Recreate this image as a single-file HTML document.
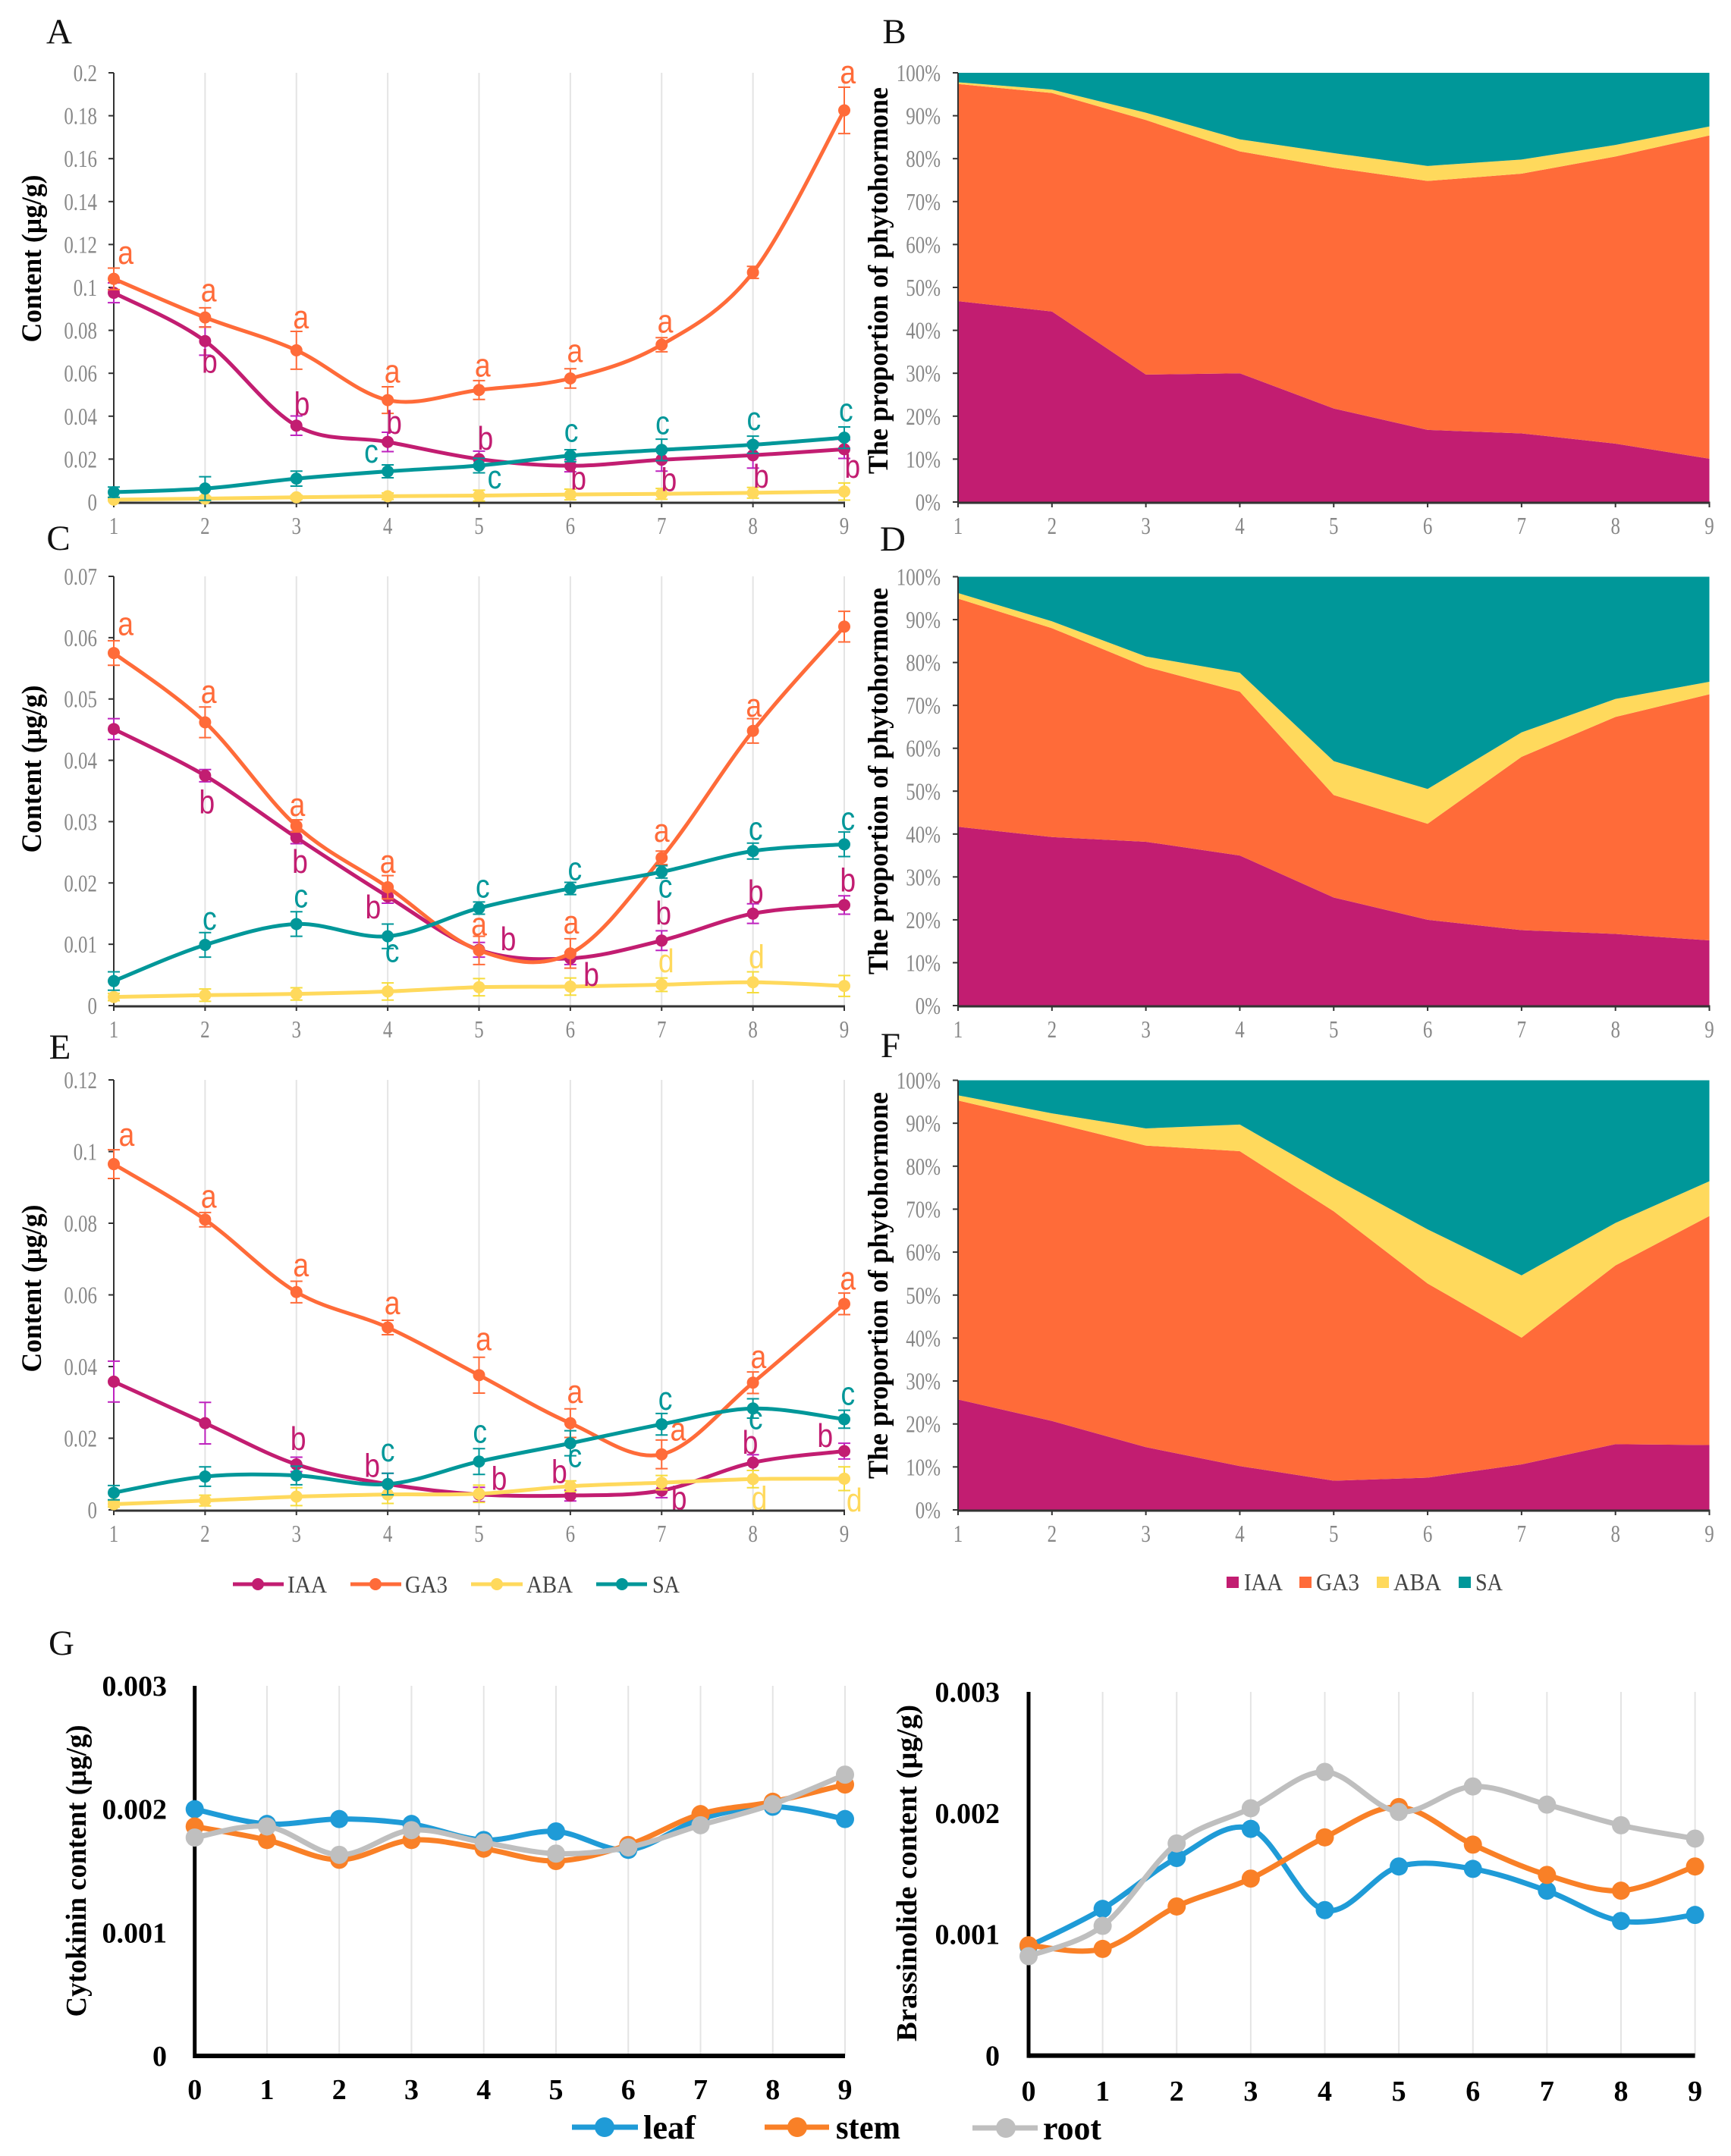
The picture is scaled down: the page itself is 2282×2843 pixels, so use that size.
<!DOCTYPE html>
<html lang="en">
<head>
<meta charset="utf-8">
<title>Phytohormone content and proportion charts</title>
<style>
html,body{margin:0;padding:0;background:#fff;}
svg{display:block;}
</style>
</head>
<body>
<svg id="fig" xmlns="http://www.w3.org/2000/svg" width="2282" height="2843" viewBox="0 0 2282 2843"></svg>
<script>
// ---------- shared categories ----------
const stages = [1,2,3,4,5,6,7,8,9];
const stagesG = [0,1,2,3,4,5,6,7,8,9];

// ---------- panel A values ----------
const ticksA = ['0','0.02','0.04','0.06','0.08','0.1','0.12','0.14','0.16','0.18','0.2'];
const aIAA = [.0975,.075,.0356,.028,.020,.0169,.0197,.0218,.0246];
const aGA3 = [.104,.086,.0707,.0475,.0522,.0576,.0733,.107,.1825];
const aABA = [.0011,.0016,.0022,.0027,.003,.0035,.0038,.0043,.0049];
const aSA  = [.0046,.0063,.0109,.0143,.017,.0216,.0243,.0267,.03];
const aIAAerr = [.0046,.0066,.0045,.0045,.0037,.0028,.0053,.006,.0043];
const aGA3err = [.005,.0045,.0088,.0062,.0044,.0045,.0033,.0028,.0108];
const aABAerr = [.0005,.001,.001,.0015,.0025,.0025,.0025,.0025,.004];
const aSAerr  = [.0024,.0055,.0035,.003,.0034,.0028,.005,.004,.005];
const aLettersGA3 = [['a',1.13,.1148],['a',2.04,.0973],['a',3.05,.0848],['a',4.05,.0596],['a',5.04,.0624],['a',6.05,.0691],['a',7.04,.0828],['a',9.04,.1989]];
const aLettersIAA = [['b',2.05,.0659],['b',3.06,.0462],['b',4.07,.0375],['b',5.07,.03],['b',6.09,.0115],['b',7.08,.0107],['b',8.09,.0123],['b',9.09,.017]];
const aLettersSA  = [['c',3.82,.0222],['c',5.17,.0103],['c',6.01,.032],['c',7.01,.0355],['c',8.01,.0375],['c',9.02,.0415]];
const aLettersABA = [];

// ---------- panel C values ----------
const ticksC = ['0','0.01','0.02','0.03','0.04','0.05','0.06','0.07'];
const cIAA = [.0451,.0375,.0274,.0178,.0091,.0077,.0106,.015,.0164];
const cGA3 = [.0575,.0462,.0293,.0193,.009,.0085,.0241,.0448,.0618];
const cABA = [.0014,.0017,.0019,.0023,.003,.0031,.0034,.0038,.0032];
const cSA  = [.004,.0099,.0133,.0113,.0159,.0191,.0218,.0252,.0263];
const cIAAerr = [.0017,.001,.001,.0011,.0012,.001,.0016,.0016,.0015];
const cGA3err = [.002,.0025,.001,.0019,.0023,.0024,.0011,.002,.0025];
const cABAerr = [.0006,.001,.001,.0014,.0014,.0014,.0011,.0017,.0017];
const cSAerr  = [.0015,.002,.002,.002,.001,.001,.001,.0013,.002];
const cLettersGA3 = [['a',1.13,.0618],['a',2.04,.0507],['a',3.01,.0323],['a',4.0,.023],['a',5.0,.0128],['a',6.01,.0131],['a',7.0,.0281],['a',8.01,.0485]];
const cLettersIAA = [['b',2.02,.0333],['b',3.04,.0236],['b',3.84,.0162],['b',5.32,.011],['b',6.23,.0052],['b',7.02,.0152],['b',8.03,.0187],['b',9.04,.0206]];
const cLettersSA  = [['c',2.05,.0137],['c',3.05,.0174],['c',4.05,.0085],['c',5.04,.019],['c',6.05,.0218],['c',7.04,.019],['c',8.03,.0284],['c',9.04,.03]];
const cLettersABA = [['d',7.05,.0074],['d',8.04,.0081]];

// ---------- panel E values ----------
const ticksE = ['0','0.02','0.04','0.06','0.08','0.1','0.12'];
const eIAA = [.0358,.0242,.0127,.0072,.0043,.004,.0054,.0132,.0164];
const eGA3 = [.0965,.081,.0608,.0509,.0376,.0242,.0155,.0355,.0575];
const eABA = [.0016,.0026,.0037,.0043,.0045,.0066,.0076,.0086,.0087];
const eSA  = [.0048,.0093,.0096,.0072,.0135,.0186,.0239,.0283,.0253];
const eIAAerr = [.0057,.0058,.002,.003,.002,.0015,.002,.0022,.0022];
const eGA3err = [.004,.002,.003,.002,.005,.004,.004,.003,.003];
const eABAerr = [.0008,.0015,.0025,.0025,.0024,.0015,.002,.0024,.0033];
const eSAerr  = [.002,.0027,.0026,.003,.0036,.0035,.003,.0027,.0025];
const eLettersGA3 = [['a',1.14,.1039],['a',2.04,.0867],['a',3.05,.0675],['a',4.05,.0569],['a',5.05,.0469],['a',6.05,.0322],['a',7.18,.0217],['a',8.06,.0419],['a',9.04,.0638]];
const eLettersIAA = [['b',3.02,.0201],['b',3.83,.0126],['b',5.22,.009],['b',5.88,.0109],['b',7.19,.0035],['b',7.97,.019],['b',8.79,.0209]];
const eLettersSA  = [['c',4.0,.0159],['c',5.01,.0211],['c',6.05,.0143],['c',7.04,.0303],['c',8.03,.0249],['c',9.04,.0316]];
const eLettersABA = [['d',8.07,.0035],['d',9.11,.003]];

// ---------- proportion panels (percent share of each hormone) ----------
const pctTicks = ['0%','10%','20%','30%','40%','50%','60%','70%','80%','90%','100%'];
const bIAA = [46.8,44.4,29.7,30,21.8,16.8,16,13.6,10.1];
const bGA3 = [50.6,50.9,59.3,51.7,56.1,58,60.5,66.9,75.3];
const bABA = [0.4,0.8,1.7,2.8,3.4,3.5,3.3,2.7,2.1];
const bSA  = [2.2,3.9,9.3,15.5,18.7,21.7,20.2,16.8,12.5];
const dIAA = [41.7,39.3,38.2,35,25.2,20,17.6,16.7,15.2];
const dGA3 = [53.2,48.7,40.8,38.2,23.9,22.4,40.4,50.6,57.4];
const dABA = [1.3,1.6,2.4,4.4,7.9,8.1,5.7,4.2,2.9];
const dSA  = [3.8,10.4,18.6,22.4,43,49.5,36.3,28.5,24.5];
const fIAA = [25.7,20.7,14.6,10.2,6.8,7.5,10.6,15.3,15.1];
const fGA3 = [69.6,69.5,70.2,73.3,62.7,45.2,29.5,41.6,53.3];
const fABA = [1.2,2.1,4,6.2,7.7,12.6,14.5,9.9,8.1];
const fSA  = [3.5,7.7,11.2,10.3,22.8,34.7,45.4,33.2,23.5];

// ---------- panel G values ----------
const gTicks = ['0','0.001','0.002','0.003'];
const ckLeaf = [.002,.00188,.00192,.00188,.00175,.00182,.00167,.00192,.00202,.00192];
const ckStem = [.00186,.00175,.00159,.00175,.00168,.00158,.00171,.00196,.00206,.0022];
const ckRoot = [.00177,.00186,.00163,.00183,.00173,.00164,.00169,.00187,.00204,.00228];
const brLeaf = [.0009,.00121,.00163,.00187,.0012,.00156,.00154,.00136,.00111,.00116];
const brStem = [.00091,.00088,.00123,.00146,.0018,.00205,.00174,.00149,.00136,.00156];
const brRoot = [.00082,.00107,.00175,.00204,.00234,.00201,.00222,.00207,.0019,.00179];

// ---------- styling ----------
const COL = {IAA:'#C21D71', GA3:'#FF6B39', ABA:'#FFD95C', SA:'#009799', leaf:'#1F9BD7', stem:'#F98027', root:'#BFBFBF'};
const ERR = {IAA:'#BE22BE', GA3:'#FF6B39', ABA:'#F5DC3C', SA:'#009799'};
const SERIF = '"Liberation Serif", serif';
const SANS = '"Liberation Sans", sans-serif';
const TICKGRAY = '#888888';
const NS = 'http://www.w3.org/2000/svg';
const fig = document.getElementById('fig');

function mk(tag, attrs, parent) {
  const n = document.createElementNS(NS, tag);
  for (const k in attrs) n.setAttribute(k, attrs[k]);
  (parent || fig).appendChild(n);
  return n;
}
function linearScale(d0, d1, r0, r1) {
  return function (v) { return r0 + (v - d0) / (d1 - d0) * (r1 - r0); };
}
function smoothPath(pts) {
  let s = 'M' + pts[0][0] + ' ' + pts[0][1];
  for (let i = 0; i < pts.length - 1; i++) {
    const p0 = pts[Math.max(i - 1, 0)], p1 = pts[i], p2 = pts[i + 1], p3 = pts[Math.min(i + 2, pts.length - 1)];
    const c1x = p1[0] + (p2[0] - p0[0]) / 6, c1y = p1[1] + (p2[1] - p0[1]) / 6;
    const c2x = p2[0] - (p3[0] - p1[0]) / 6, c2y = p2[1] - (p3[1] - p1[1]) / 6;
    s += ' C' + c1x + ' ' + c1y + ' ' + c2x + ' ' + c2y + ' ' + p2[0] + ' ' + p2[1];
  }
  return s;
}
function panelLetter(str, x, y) {
  const t = mk('text', {x: x, y: y, 'font-family': SERIF, 'font-size': 47, fill: '#111', 'text-anchor': 'middle'});
  t.textContent = str;
  
  
}
function grayLabel(parent, str, x, y, anchor, name) {
  const t = mk('text', {transform: 'translate(' + x + ' ' + y + ') scale(0.78 1)', 'font-family': SERIF, 'font-size': 32, fill: TICKGRAY, 'text-anchor': anchor}, parent);
  t.textContent = str;
  
  
}
function axisTitle(parent, str, cx, cy, len, size, name) {
  const t = mk('text', {transform: 'translate(' + cx + ' ' + cy + ') rotate(-90)', 'font-family': SERIF, 'font-weight': 'bold', 'font-size': size, fill: '#000', 'text-anchor': 'middle', textLength: len, lengthAdjust: 'spacingAndGlyphs'}, parent);
  t.textContent = str;
  
  
}
function grayAxes(g, xS, yS, cats, ticks, labelRight) {
  const xa = xS(cats[0]), xb = xS(cats[cats.length - 1]);
  const ya = yS(parseFloat(ticks[0])), yb = yS(parseFloat(ticks[ticks.length - 1]));
  const ax = mk('line', {x1: xa, x2: xa, y1: yb, y2: ya + 1, stroke: '#333', 'stroke-width': 2}, g);
  
  
  const bx = mk('line', {x1: xa - 1, x2: xb + 1, y1: ya + 1, y2: ya + 1, stroke: '#333', 'stroke-width': 3}, g);
  
  
  ticks.forEach(function (t) {
    const y = yS(parseFloat(t));
    const tk = mk('line', {x1: xa - 7, x2: xa, y1: y, y2: y, stroke: '#333', 'stroke-width': 2}, g);
    
    
    grayLabel(g, t, labelRight, y + 11, 'end', 'y-tick-label');
  });
  cats.forEach(function (c) {
    const x = xS(c);
    const tk = mk('line', {x1: x, x2: x, y1: ya + 1, y2: ya + 7, stroke: '#333', 'stroke-width': 2}, g);
    
    
    grayLabel(g, String(c), x, ya + 42, 'middle', 'x-tick-label');
  });
}
function drawLines(name, top, bottom, ymax, ticks, title, titleCy, seriesList) {
  const g = mk('g', {});
  
  
  const xS = linearScale(1, 9, 150, 1113);
  const yS = linearScale(0, ymax, bottom, top);
  stages.forEach(function (c) {
    if (c === 1) return;
    const gl = mk('line', {x1: xS(c), x2: xS(c), y1: top, y2: bottom, stroke: '#e4e4e4', 'stroke-width': 2}, g);
    
    
  });
  grayAxes(g, xS, yS, stages, ticks, 128);
  axisTitle(g, title, 54, titleCy, 221, 37, 'y-axis-title');
  seriesList.forEach(function (s) {
    const sg = mk('g', {}, g);
    
    
    const pts = s.vals.map(function (v, i) { return [xS(stages[i]), yS(v)]; });
    const ln = mk('path', {d: smoothPath(pts), fill: 'none', stroke: COL[s.key], 'stroke-width': 5}, sg);
    
    
    s.vals.forEach(function (v, i) {
      const x = xS(stages[i]);
      const hi = yS(v + s.err[i]), lo = yS(Math.max(v - s.err[i], 0));
      const eb = mk('path', {d: 'M' + x + ' ' + hi + 'V' + lo + 'M' + (x - 8) + ' ' + hi + 'H' + (x + 8) + 'M' + (x - 8) + ' ' + lo + 'H' + (x + 8), fill: 'none', stroke: ERR[s.key], 'stroke-width': 2}, sg);
      
      
      const pt = mk('circle', {cx: x, cy: yS(v), r: 8, fill: COL[s.key]}, sg);
      
      
    });
  });
  seriesList.forEach(function (s) {
    s.letters.forEach(function (l) {
      const tall = l[0] === 'b' || l[0] === 'd';
      const t = mk('text', {transform: 'translate(' + xS(l[1]) + ' ' + (yS(l[2]) + (tall ? 16 : 11)) + ') scale(0.85 1)', 'font-family': SANS, 'font-size': 44, fill: COL[s.key], 'text-anchor': 'middle'}, g);
      t.textContent = l[0];
      
      
    });
  });
}
function drawArea(name, top, bottom, titleCy, layers) {
  const g = mk('g', {});
  
  
  const xS = linearScale(1, 9, 1263, 2253.5);
  const yS = linearScale(0, 100, bottom, top);
  const base = stages.map(function () { return 0; });
  layers.forEach(function (l) {
    const lower = base.slice();
    const total = stages.map(function (c, i) { return layers.reduce(function (a, b) { return a + b.vals[i]; }, 0); });
    stages.forEach(function (c, i) { base[i] += l.vals[i] / total[i] * 100; });
    let pts = stages.map(function (c, i) { return xS(c) + ',' + yS(base[i]); });
    for (let i = stages.length - 1; i >= 0; i--) pts.push(xS(stages[i]) + ',' + yS(lower[i]));
    const a = mk('polygon', {points: pts.join(' '), fill: COL[l.key]}, g);
    
    
  });
  grayAxes(g, xS, yS, stages, pctTicks, 1240);
  axisTitle(g, 'The proportion of phytohormone', 1170, titleCy, 510, 37, 'y-axis-title');
}
function drawG(name, x0, x1, top, bottom, labelRight, labelY, title, titleX, titleCy, titleLen, seriesList) {
  const g = mk('g', {});
  
  
  const xS = linearScale(0, 9, x0, x1);
  const yS = linearScale(0, 0.003, bottom, top);
  stagesG.forEach(function (c) {
    if (c === 0) return;
    const gl = mk('line', {x1: xS(c), x2: xS(c), y1: top, y2: bottom, stroke: '#e4e4e4', 'stroke-width': 2}, g);
    
    
  });
  const ax = mk('line', {x1: x0, x2: x0, y1: top, y2: bottom + 3, stroke: '#000', 'stroke-width': 5}, g);
  
  
  const bx = mk('line', {x1: x0, x2: x1, y1: bottom, y2: bottom, stroke: '#000', 'stroke-width': 6}, g);
  
  
  gTicks.forEach(function (t) {
    const l = mk('text', {x: labelRight, y: yS(parseFloat(t)) + 13, 'font-family': SERIF, 'font-weight': 'bold', 'font-size': 38, fill: '#000', 'text-anchor': 'end'}, g);
    l.textContent = t;
    
    
  });
  stagesG.forEach(function (c) {
    const l = mk('text', {x: xS(c), y: labelY, 'font-family': SERIF, 'font-weight': 'bold', 'font-size': 38, fill: '#000', 'text-anchor': 'middle'}, g);
    l.textContent = String(c);
    
    
  });
  axisTitle(g, title, titleX, titleCy, titleLen, 38, 'y-axis-title');
  seriesList.forEach(function (s) {
    const pts = s.vals.map(function (v, i) { return [xS(stagesG[i]), yS(v)]; });
    const ln = mk('path', {d: smoothPath(pts), fill: 'none', stroke: COL[s.key], 'stroke-width': 7}, g);
    
    
    pts.forEach(function (p) {
      const c = mk('circle', {cx: p[0], cy: p[1], r: 12, fill: COL[s.key]}, g);
      
      
    });
  });
}

// ---------- panel labels ----------
panelLetter('A', 78, 57);
panelLetter('B', 1179, 57);
panelLetter('C', 77, 725);
panelLetter('D', 1177, 726);
panelLetter('E', 79, 1396);
panelLetter('F', 1174, 1394);
panelLetter('G', 81, 2182);

// ---------- line panels ----------
drawLines('chart-a', 96, 662, 0.2, ticksA, 'Content (µg/g)', 341, [
  {key:'IAA', vals:aIAA, err:aIAAerr, letters:aLettersIAA},
  {key:'GA3', vals:aGA3, err:aGA3err, letters:aLettersGA3},
  {key:'ABA', vals:aABA, err:aABAerr, letters:aLettersABA},
  {key:'SA',  vals:aSA,  err:aSAerr,  letters:aLettersSA}
]);
drawLines('chart-c', 760, 1326, 0.07, ticksC, 'Content (µg/g)', 1014, [
  {key:'IAA', vals:cIAA, err:cIAAerr, letters:cLettersIAA},
  {key:'GA3', vals:cGA3, err:cGA3err, letters:cLettersGA3},
  {key:'ABA', vals:cABA, err:cABAerr, letters:cLettersABA},
  {key:'SA',  vals:cSA,  err:cSAerr,  letters:cLettersSA}
]);
drawLines('chart-e', 1424, 1991, 0.12, ticksE, 'Content (µg/g)', 1699, [
  {key:'IAA', vals:eIAA, err:eIAAerr, letters:eLettersIAA},
  {key:'GA3', vals:eGA3, err:eGA3err, letters:eLettersGA3},
  {key:'ABA', vals:eABA, err:eABAerr, letters:eLettersABA},
  {key:'SA',  vals:eSA,  err:eSAerr,  letters:eLettersSA}
]);

// ---------- area panels ----------
drawArea('chart-b', 96, 662, 370, [{key:'IAA',vals:bIAA},{key:'GA3',vals:bGA3},{key:'ABA',vals:bABA},{key:'SA',vals:bSA}]);
drawArea('chart-d', 760.5, 1326, 1030, [{key:'IAA',vals:dIAA},{key:'GA3',vals:dGA3},{key:'ABA',vals:dABA},{key:'SA',vals:dSA}]);
drawArea('chart-f', 1424.5, 1991, 1695, [{key:'IAA',vals:fIAA},{key:'GA3',vals:fGA3},{key:'ABA',vals:fABA},{key:'SA',vals:fSA}]);

// ---------- bottom panels ----------
drawG('chart-g-cytokinin', 256.7, 1114, 2223, 2711, 220, 2768, 'Cytokinin content (µg/g)', 113, 2467, 385,
  [{key:'leaf',vals:ckLeaf},{key:'stem',vals:ckStem},{key:'root',vals:ckRoot}]);
drawG('chart-g-brassinolide', 1356, 2234.6, 2231, 2710.6, 1318, 2770, 'Brassinolide content (µg/g)', 1208, 2470, 444,
  [{key:'leaf',vals:brLeaf},{key:'stem',vals:brStem},{key:'root',vals:brRoot}]);

// ---------- legends ----------
function lineLegend(key, label, x1, x2, mx, y, r, w, tx, tlen, size, weight, color, groupName) {
  const g = mk('g', {});
  
  
  const ln = mk('line', {x1: x1, x2: x2, y1: y, y2: y, stroke: COL[key], 'stroke-width': w}, g);
  
  
  const c = mk('circle', {cx: mx, cy: y, r: r, fill: COL[key]}, g);
  
  
  const t = mk('text', {x: tx, y: y + size * 0.34, 'font-family': SERIF, 'font-weight': weight, 'font-size': size, fill: color, textLength: tlen, lengthAdjust: 'spacingAndGlyphs'}, g);
  t.textContent = label;
  
  
}
lineLegend('IAA','IAA',307,374,340,2089,8,5,379,52,32,'normal','#444','legend-entry-iaa');
lineLegend('GA3','GA3',462,529,495,2089,8,5,534,56,32,'normal','#444','legend-entry-ga3');
lineLegend('ABA','ABA',621,689,655,2089,8,5,694,61,32,'normal','#444','legend-entry-aba');
lineLegend('SA','SA',786,853,820,2089,8,5,860,36,32,'normal','#444','legend-entry-sa');
lineLegend('leaf','leaf',754,841,797,2805,13,7,848,69,44,'bold','#000','legend-entry-leaf');
lineLegend('stem','stem',1008,1093,1051,2805,13,7,1102,85,44,'bold','#000','legend-entry-stem');
lineLegend('root','root',1282,1368,1326,2806,13,7,1375,77,44,'bold','#000','legend-entry-root');

function squareLegend(key, label, sx, tx, tlen, groupName) {
  const g = mk('g', {});
  
  
  const r = mk('rect', {x: sx, y: 2079, width: 16, height: 15, fill: COL[key]}, g);
  
  
  const t = mk('text', {x: tx, y: 2097, 'font-family': SERIF, 'font-size': 32, fill: '#444', textLength: tlen, lengthAdjust: 'spacingAndGlyphs'}, g);
  t.textContent = label;
  
  
}
squareLegend('IAA','IAA',1617,1640,51,'area-legend-entry-iaa');
squareLegend('GA3','GA3',1713,1735,57,'area-legend-entry-ga3');
squareLegend('ABA','ABA',1815,1837,63,'area-legend-entry-aba');
squareLegend('SA','SA',1923,1945,36,'area-legend-entry-sa');
</script>
</body>
</html>
